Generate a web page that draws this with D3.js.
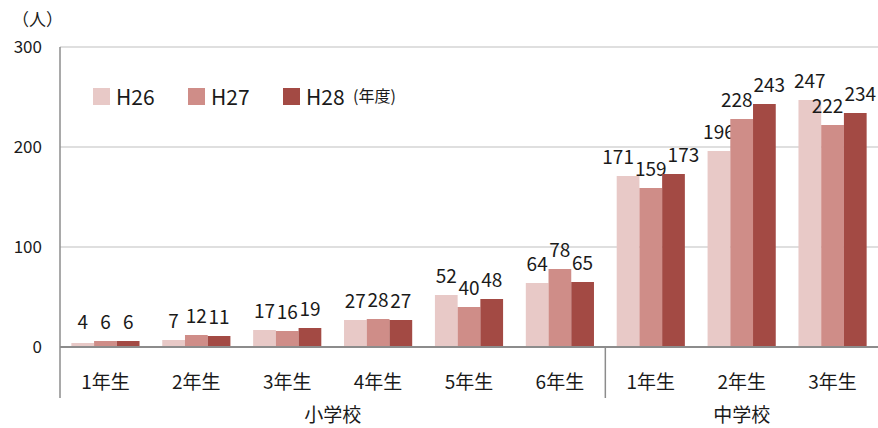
<!DOCTYPE html>
<meta charset='utf-8'>
<style>
  body { margin:0; background:#fff; }
  svg text { font-family:'Noto Sans CJK JP', 'Noto Sans', sans-serif; fill:#1a1a1a; }
  .grid line { stroke:#bfbfbf; stroke-width:1px; }
</style>
<body>
<script src='https://d3js.org/d3.v7.min.js'></script>
<script>

  var width = 878;
  var height = 428;

  var grades = ['1年生','2年生','3年生','4年生','5年生','6年生','1年生','2年生','3年生'];
  var schools = ['小学校','中学校'];
  var schoolSize = [6, 3];
  var years = ['H26','H27','H28'];
  var h26 = [4, 7, 17, 27, 52, 64, 171, 196, 247];
  var h27 = [6, 12, 16, 28, 40, 78, 159, 228, 222];
  var h28 = [6, 11, 19, 27, 48, 65, 173, 243, 234];
  var yTicks = [0, 100, 200, 300];
  var colors = ['#e8c9c7', '#cf8d88', '#a34a44'];

  var plotL = 60, plotR = 878, plotT = 47, plotB = 347;

  var svg = d3.select('body').append('svg')
    .attr('width', width)
    .attr('height', height);

  var x = d3.scaleBand()
    .domain(d3.range(grades.length))
    .range([plotL, plotR])
    .paddingInner(0.25)
    .paddingOuter(0.125);

  var xs = d3.scaleBand()
    .domain(years)
    .range([0, x.bandwidth()]);

  var y = d3.scaleLinear()
    .domain([0, 300])
    .range([plotB, plotT]);

  // grid
  svg.append('g').attr('class','grid')
    .selectAll('line')
    .data(yTicks.filter(d => d > 0))
    .enter().append('line')
    .attr('x1', plotL).attr('x2', plotR)
    .attr('y1', d => y(d)).attr('y2', d => y(d));

  svg.selectAll('.ytick')
    .data(yTicks)
    .enter().append('text')
    .attr('x', 42)
    .attr('y', d => y(d))
    .attr('dy', '0.35em')
    .attr('text-anchor', 'end')
    .style('font-size', '17px')
    .text(d => d);

  svg.append('text')
    .attr('x', 12).attr('y', 26)
    .style('font-size', '17px')
    .text('（人）');

  var series = [h26, h27, h28];
  var labelSel = [];
  series.forEach((vals, si) => {
    var g = svg.append('g');
    g.selectAll('rect')
      .data(vals)
      .enter().append('rect')
      .attr('x', (d, i) => x(i) + xs(years[si]))
      .attr('width', xs.bandwidth())
      .attr('y', d => y(d))
      .attr('height', d => y(0) - y(d))
      .attr('fill', colors[si]);
    labelSel.push(g.selectAll('text')
      .data(vals)
      .enter().append('text')
      .attr('x', (d, i) => x(i) + xs(years[si]) + xs.bandwidth() / 2)
      .attr('y', d => Math.min(y(d), y(0) - 6) - 12)
      .attr('text-anchor', 'middle')
      .style('font-size', '19px')
      .text(d => d));
  });

  // nudge value labels apart where they collide
  grades.forEach((g, gi) => {
    var labs = labelSel.map(sel => {
      var node = sel.nodes()[gi];
      return { node: node, x: +node.getAttribute('x'), y: +node.getAttribute('y'), w: node.getComputedTextLength() };
    });
    for (var pass = 0; pass < 30; pass++) {
      for (var i = 1; i < labs.length; i++) {
        var a = labs[i - 1], b = labs[i];
        if (Math.abs(a.y - b.y) < 17) {
          var ov = (a.x + a.w / 2 + 1) - (b.x - b.w / 2);
          if (ov > 0) { a.x -= ov / 2; b.x += ov / 2; }
        }
      }
    }
    labs.forEach(l => l.node.setAttribute('x', l.x));
  });

  // axes lines
  svg.append('line')
    .attr('x1', plotL).attr('x2', plotR)
    .attr('y1', y(0)).attr('y2', y(0))
    .attr('stroke', '#8c8c8c').attr('stroke-width', 2);
  svg.append('line')
    .attr('x1', plotL).attr('x2', plotL)
    .attr('y1', plotT).attr('y2', 398)
    .attr('stroke', '#8c8c8c').attr('stroke-width', 1.5);

  var step = (plotR - plotL) / grades.length;
  var sepX = plotL + step * schoolSize[0];
  svg.append('line')
    .attr('x1', sepX).attr('x2', sepX)
    .attr('y1', y(0)).attr('y2', 398)
    .attr('stroke', '#8c8c8c').attr('stroke-width', 1.5);

  svg.selectAll('.cat')
    .data(grades)
    .enter().append('text')
    .attr('x', (d, i) => x(i) + x.bandwidth() / 2)
    .attr('y', 389)
    .attr('text-anchor', 'middle')
    .style('font-size', '19px')
    .text(d => d);

  var start = 0;
  schools.forEach((s, i) => {
    var x0 = plotL + step * start;
    var x1 = plotL + step * (start + schoolSize[i]);
    svg.append('text')
      .attr('x', (x0 + x1) / 2)
      .attr('y', 422)
      .attr('text-anchor', 'middle')
      .style('font-size', '19px')
      .text(s);
    start += schoolSize[i];
  });

  // legend
  var legX = [93, 188, 283];
  years.forEach((yr, i) => {
    svg.append('rect')
      .attr('x', legX[i]).attr('y', 88)
      .attr('width', 17).attr('height', 17)
      .attr('fill', colors[i]);
    svg.append('text')
      .attr('x', legX[i] + 23).attr('y', 105)
      .style('font-size', '21px')
      .text(yr);
  });
  svg.append('text')
    .attr('x', 353).attr('y', 102)
    .style('font-size', '16px')
    .text('(年度)');

</script>
</body>
